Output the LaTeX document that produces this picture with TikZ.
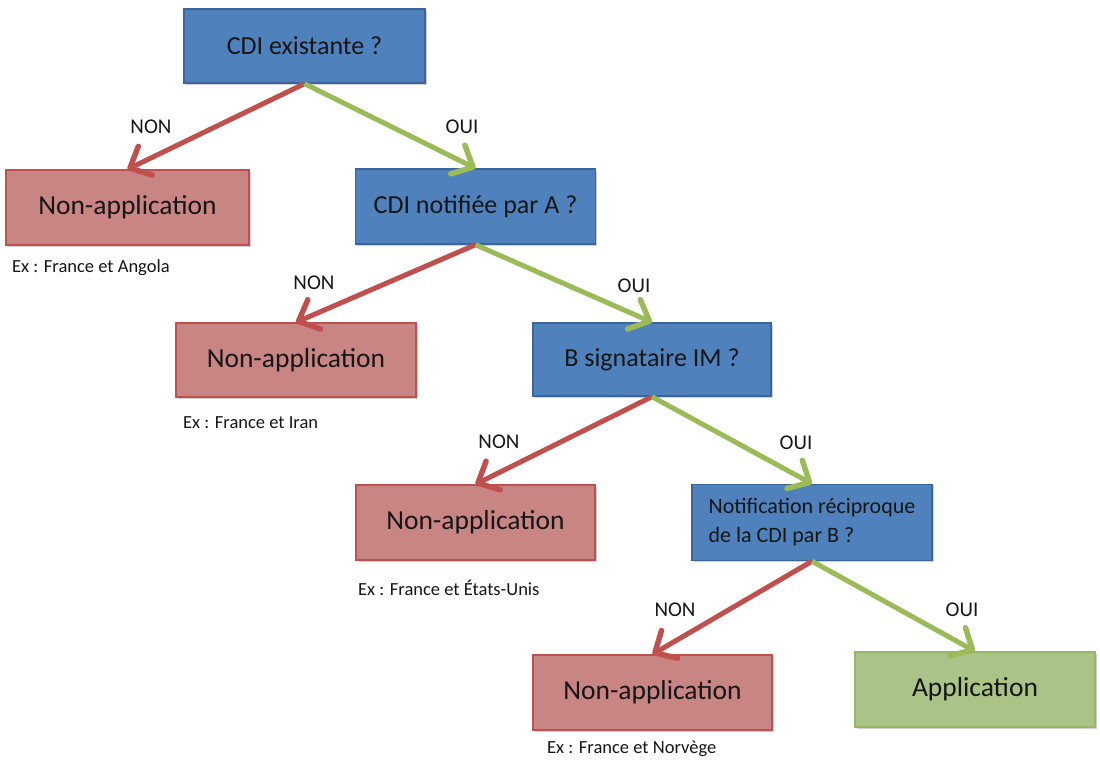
\documentclass[tikz,border=0pt]{standalone}
\usepackage{fontspec}
\setmainfont{Carlito}
\usetikzlibrary{arrows.meta,shadows}

\definecolor{qfill}{HTML}{4F81BD}
\definecolor{qline}{HTML}{3A669C}
\definecolor{nfill}{HTML}{C98484}
\definecolor{nline}{HTML}{BE504D}
\definecolor{afill}{HTML}{AAC387}
\definecolor{aline}{HTML}{98B764}
\definecolor{noarrow}{HTML}{C0504D}
\definecolor{yesarrow}{HTML}{9BBB59}
\definecolor{ink}{HTML}{161616}

\tikzset{
  boxbase/.style={rectangle, minimum width=240pt, minimum height=75pt, inner sep=0pt,
    line width=1.4pt, text=ink,
    drop shadow={shadow xshift=1.5pt, shadow yshift=-1.8pt, opacity=0.3, fill=black!60}},
  question/.style={boxbase, fill=qfill, draw=qline, font=\fontsize{26}{31}\selectfont},
  refusal/.style={boxbase, fill=nfill, draw=nline, font=\fontsize{27.5}{32}\selectfont},
  accept/.style={boxbase, fill=afill, draw=aline, font=\fontsize{27.5}{32}\selectfont},
  headtip/.style={-{Straight Barb[length=17pt, width=32pt, line width=5.5pt, round]}},
  noedge/.style={draw=noarrow, line width=5pt, headtip},
  yesedge/.style={draw=yesarrow, line width=5pt, headtip},
  answer/.style={text=ink, font=\fontsize{21}{24}\selectfont, inner sep=0pt},
  example/.style={text=ink, font=\fontsize{18.5}{22}\selectfont, inner sep=0pt, anchor=west}
}

\begin{document}
\begin{tikzpicture}[x=1pt, y=-1pt]
  \useasboundingbox (0,0) rectangle (1100,761);

  % decision boxes
  \node[question, minimum width=241pt, minimum height=74pt] (q1) at (304.5,46) {CDI existante ?};
  \node[question] (q2) at (475.5,206.5) {CDI notifiée par A ?};
  \node[question, minimum width=238pt, minimum height=73pt] (q3) at (652,359.5) {B signataire IM ?};
  \node[question, minimum height=76pt, align=left,
        font=\fontsize{22}{29}\selectfont] (q4) at (812,522.5)
        {Notification réciproque\\de la CDI par B ?};

  % outcomes
  \node[refusal, minimum width=243pt] (n1) at (127.5,207.5) {Non-application};
  \node[refusal, minimum height=74pt] (n2) at (296,360) {Non-application};
  \node[refusal, minimum width=239pt] (n3) at (475.5,522.5) {Non-application};
  \node[refusal, minimum width=239pt, minimum height=75pt] (n4) at (652.5,692.5) {Non-application};
  \node[accept] (app) at (975,689.5) {Application};

  % branches
  \draw[noedge]  (q1.south) -- (n1.north);
  \draw[yesedge] (q1.south) -- (q2.north);
  \draw[noedge]  (q2.south) -- (n2.north);
  \draw[yesedge] (q2.south) -- (q3.north);
  \draw[noedge]  (q3.south) -- (n3.north);
  \draw[yesedge] (q3.south) -- (q4.north);
  \draw[noedge]  (q4.south) -- (n4.north);
  \draw[yesedge] (q4.south) -- (app.north);

  % branch labels
  \node[answer] (l1n) at (151,127) {NON};
  \node[answer] (l1o) at (462,127) {OUI};
  \node[answer] (l2n) at (314,283) {NON};
  \node[answer] (l2o) at (634,286) {OUI};
  \node[answer] (l3n) at (499,442) {NON};
  \node[answer] (l3o) at (796,443) {OUI};
  \node[answer] (l4n) at (675,610) {NON};
  \node[answer] (l4o) at (962,610) {OUI};

  % examples
  \node[example] (e1) at (12,268) {Ex : France et Angola};
  \node[example] (e2) at (183,423) {Ex : France et Iran};
  \node[example] (e3) at (358,588) {Ex : France et États-Unis};
  \node[example] (e4) at (547,749) {Ex : France et Norvège};
\end{tikzpicture}
\end{document}
